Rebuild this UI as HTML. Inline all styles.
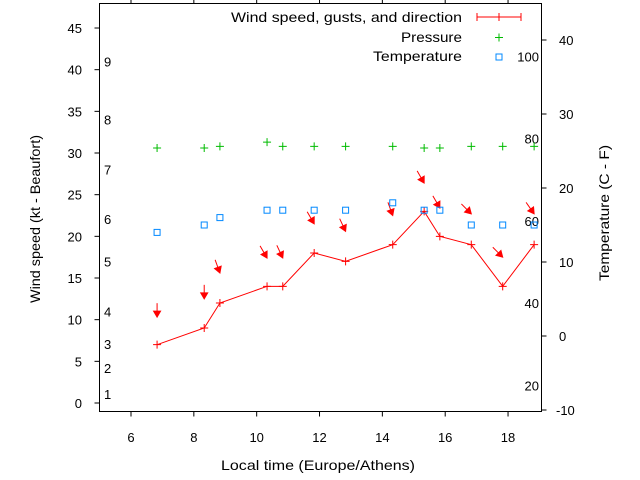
<!DOCTYPE html>
<html><head><meta charset="utf-8">
<style>
html,body{margin:0;padding:0;background:#fff;}
svg{display:block;font-family:"Liberation Sans","DejaVu Sans",sans-serif;}
text{font-size:13px;fill:#000;}
.t{font-size:14px;}
</style></head>
<body>
<svg id="chart" width="640" height="480" viewBox="0 0 640 480" xmlns="http://www.w3.org/2000/svg">
<g id="axes"></g>
<g id="marks"></g>
<g id="legend">
<text class="t" x="231" y="22" textLength="231" lengthAdjust="spacingAndGlyphs">Wind speed, gusts, and direction</text>
<line x1="477" y1="17" x2="521" y2="17" stroke="#f00"/>
<line x1="477" y1="13" x2="477" y2="21" stroke="#f00"/>
<line x1="521" y1="13" x2="521" y2="21" stroke="#f00"/>
<line x1="499" y1="13" x2="499" y2="21" stroke="#f00"/>
<text class="t" x="401" y="42" textLength="61" lengthAdjust="spacingAndGlyphs">Pressure</text>
<path d="M495 37.5h8M499 33.5v8" stroke="#0b0"/>
<text class="t" x="373" y="61" textLength="89" lengthAdjust="spacingAndGlyphs">Temperature</text>
<rect x="496" y="54" width="6" height="6" fill="none" stroke="#08f"/>
</g>
<text class="t" x="221" y="470" textLength="194" lengthAdjust="spacingAndGlyphs">Local time (Europe/Athens)</text>
<text class="t" transform="translate(40,303) rotate(-90)" textLength="168" lengthAdjust="spacingAndGlyphs">Wind speed (kt - Beaufort)</text>
<text class="t" transform="translate(609,281) rotate(-90)" textLength="136" lengthAdjust="spacingAndGlyphs">Temperature (C - F)</text>
</svg>
<script>
const times = [6.83, 8.33, 8.83, 10.33, 10.83, 11.83, 12.83, 14.33, 15.33, 15.83, 16.83, 17.83, 18.83];
const windKt = [7, 9, 12, 14, 14, 18, 17, 19, 23, 20, 19, 14, 19];
const gustKt = [10.3, 12.5, 15.6, 17.4, 17.4, 21.5, 20.6, 22.5, 26.4, 23.4, 22.7, 17.5, 22.7];
const windDir = [0, 0, 340, 330, 335, 330, 335, 340, 330, 330, 315, 315, 325];
const pressure = [30.6, 30.6, 30.8, 31.3, 30.8, 30.8, 30.8, 30.8, 30.6, 30.6, 30.8, 30.8, 30.8];
const tempC = [14, 15, 16, 17, 17, 17, 17, 18, 17, 17, 15, 15, 15];
const xTicks = [6, 8, 10, 12, 14, 16, 18];
const yTicks = [0, 5, 10, 15, 20, 25, 30, 35, 40, 45];
const y2Ticks = [-10, 0, 10, 20, 30, 40];
const beaufortLabels = ["1","2","3","4","5","6","7","8","9"];
const beaufortKt = [1.1, 4.2, 7.1, 11.0, 17.0, 22.1, 28.0, 34.0, 41.0];
const fahrenheitLabels = [20, 40, 60, 80, 100];

const L=99.5,R=541.5,T=3.5,B=411.5;
const xS=t=>131+(t-6)*31.42;
const yS=v=>403-v*8.333;
const y2S=c=>336-c*7.4;
const NS="http://www.w3.org/2000/svg";
function mk(tag,attrs,parent,txt){const e=document.createElementNS(NS,tag);for(const k in attrs)e.setAttribute(k,attrs[k]);if(txt!==undefined)e.textContent=txt;parent.appendChild(e);return e;}
const axes=document.getElementById('axes'),marks=document.getElementById('marks');
let e=mk('rect',{x:L,y:T,width:R-L,height:B-T,fill:'none',stroke:'#000'},axes);


xTicks.forEach(t=>{const x=xS(t);
 let a=mk('path',{d:`M${x} ${B}v5M${x} ${T}v-5`,stroke:'#000'},axes);
 
 
 let l=mk('text',{x:x,y:442,'text-anchor':'middle'},axes,String(t));
 
 });
yTicks.forEach(v=>{const y=yS(v);
 let a=mk('path',{d:`M${L} ${y}h-5`,stroke:'#000'},axes);
 
 
 let l=mk('text',{x:82,y:y+5,'text-anchor':'end'},axes,String(v));
 
 });
y2Ticks.forEach(v=>{const y=y2S(v);
 let a=mk('path',{d:`M${R} ${y}h5`,stroke:'#000'},axes);
 
 
 let l=mk('text',{x:v<0?556:559,y:y+5,'text-anchor':'start'},axes,String(v));
 
 });
beaufortLabels.forEach((s,i)=>{let l=mk('text',{x:104,y:yS(beaufortKt[i])+5},axes,s);
 
 });
fahrenheitLabels.forEach(f=>{const c=(f-32)*5/9;let l=mk('text',{x:539,y:y2S(c)+5,'text-anchor':'end'},axes,String(f));
 
 });
let pts=times.map((t,i)=>xS(t)+','+yS(windKt[i])).join(' ');
let wl=mk('polyline',{points:pts,fill:'none',stroke:'#f00'},marks);


times.forEach((t,i)=>{const x=xS(t),y=yS(windKt[i]);
 let p=mk('path',{d:`M${x-4} ${y}h8M${x} ${y-4}v8`,stroke:'#f00'},marks);
 
 
 const gx=x,gy=yS(gustKt[i]);const a=windDir[i]*Math.PI/180;
 const dx=-Math.sin(a),dy=Math.cos(a);const len=14;
 const sx=gx-dx*len,sy=gy-dy*len;
 const px=-dy,py=dx;const hb=6;
 const bx=gx-dx*hb,by=gy-dy*hb;
 let ar=mk('path',{d:`M${sx} ${sy}L${bx} ${by}`,stroke:'#f00'},marks);
 
 
 let hd=mk('path',{d:`M${gx} ${gy}L${bx+px*3.5} ${by+py*3.5}L${bx-px*3.5} ${by-py*3.5}Z`,fill:'#f00',stroke:'#f00'},marks);
 
 
 const yp=yS(pressure[i]);
 let pp=mk('path',{d:`M${x-4} ${yp}h8M${x} ${yp-4}v8`,stroke:'#0b0'},marks);
 
 
 const yt=y2S(tempC[i]);
 let tp=mk('rect',{x:x-3,y:yt-3,width:6,height:6,fill:'none',stroke:'#08f'},marks);
 
 
});
</script>
</body></html>
